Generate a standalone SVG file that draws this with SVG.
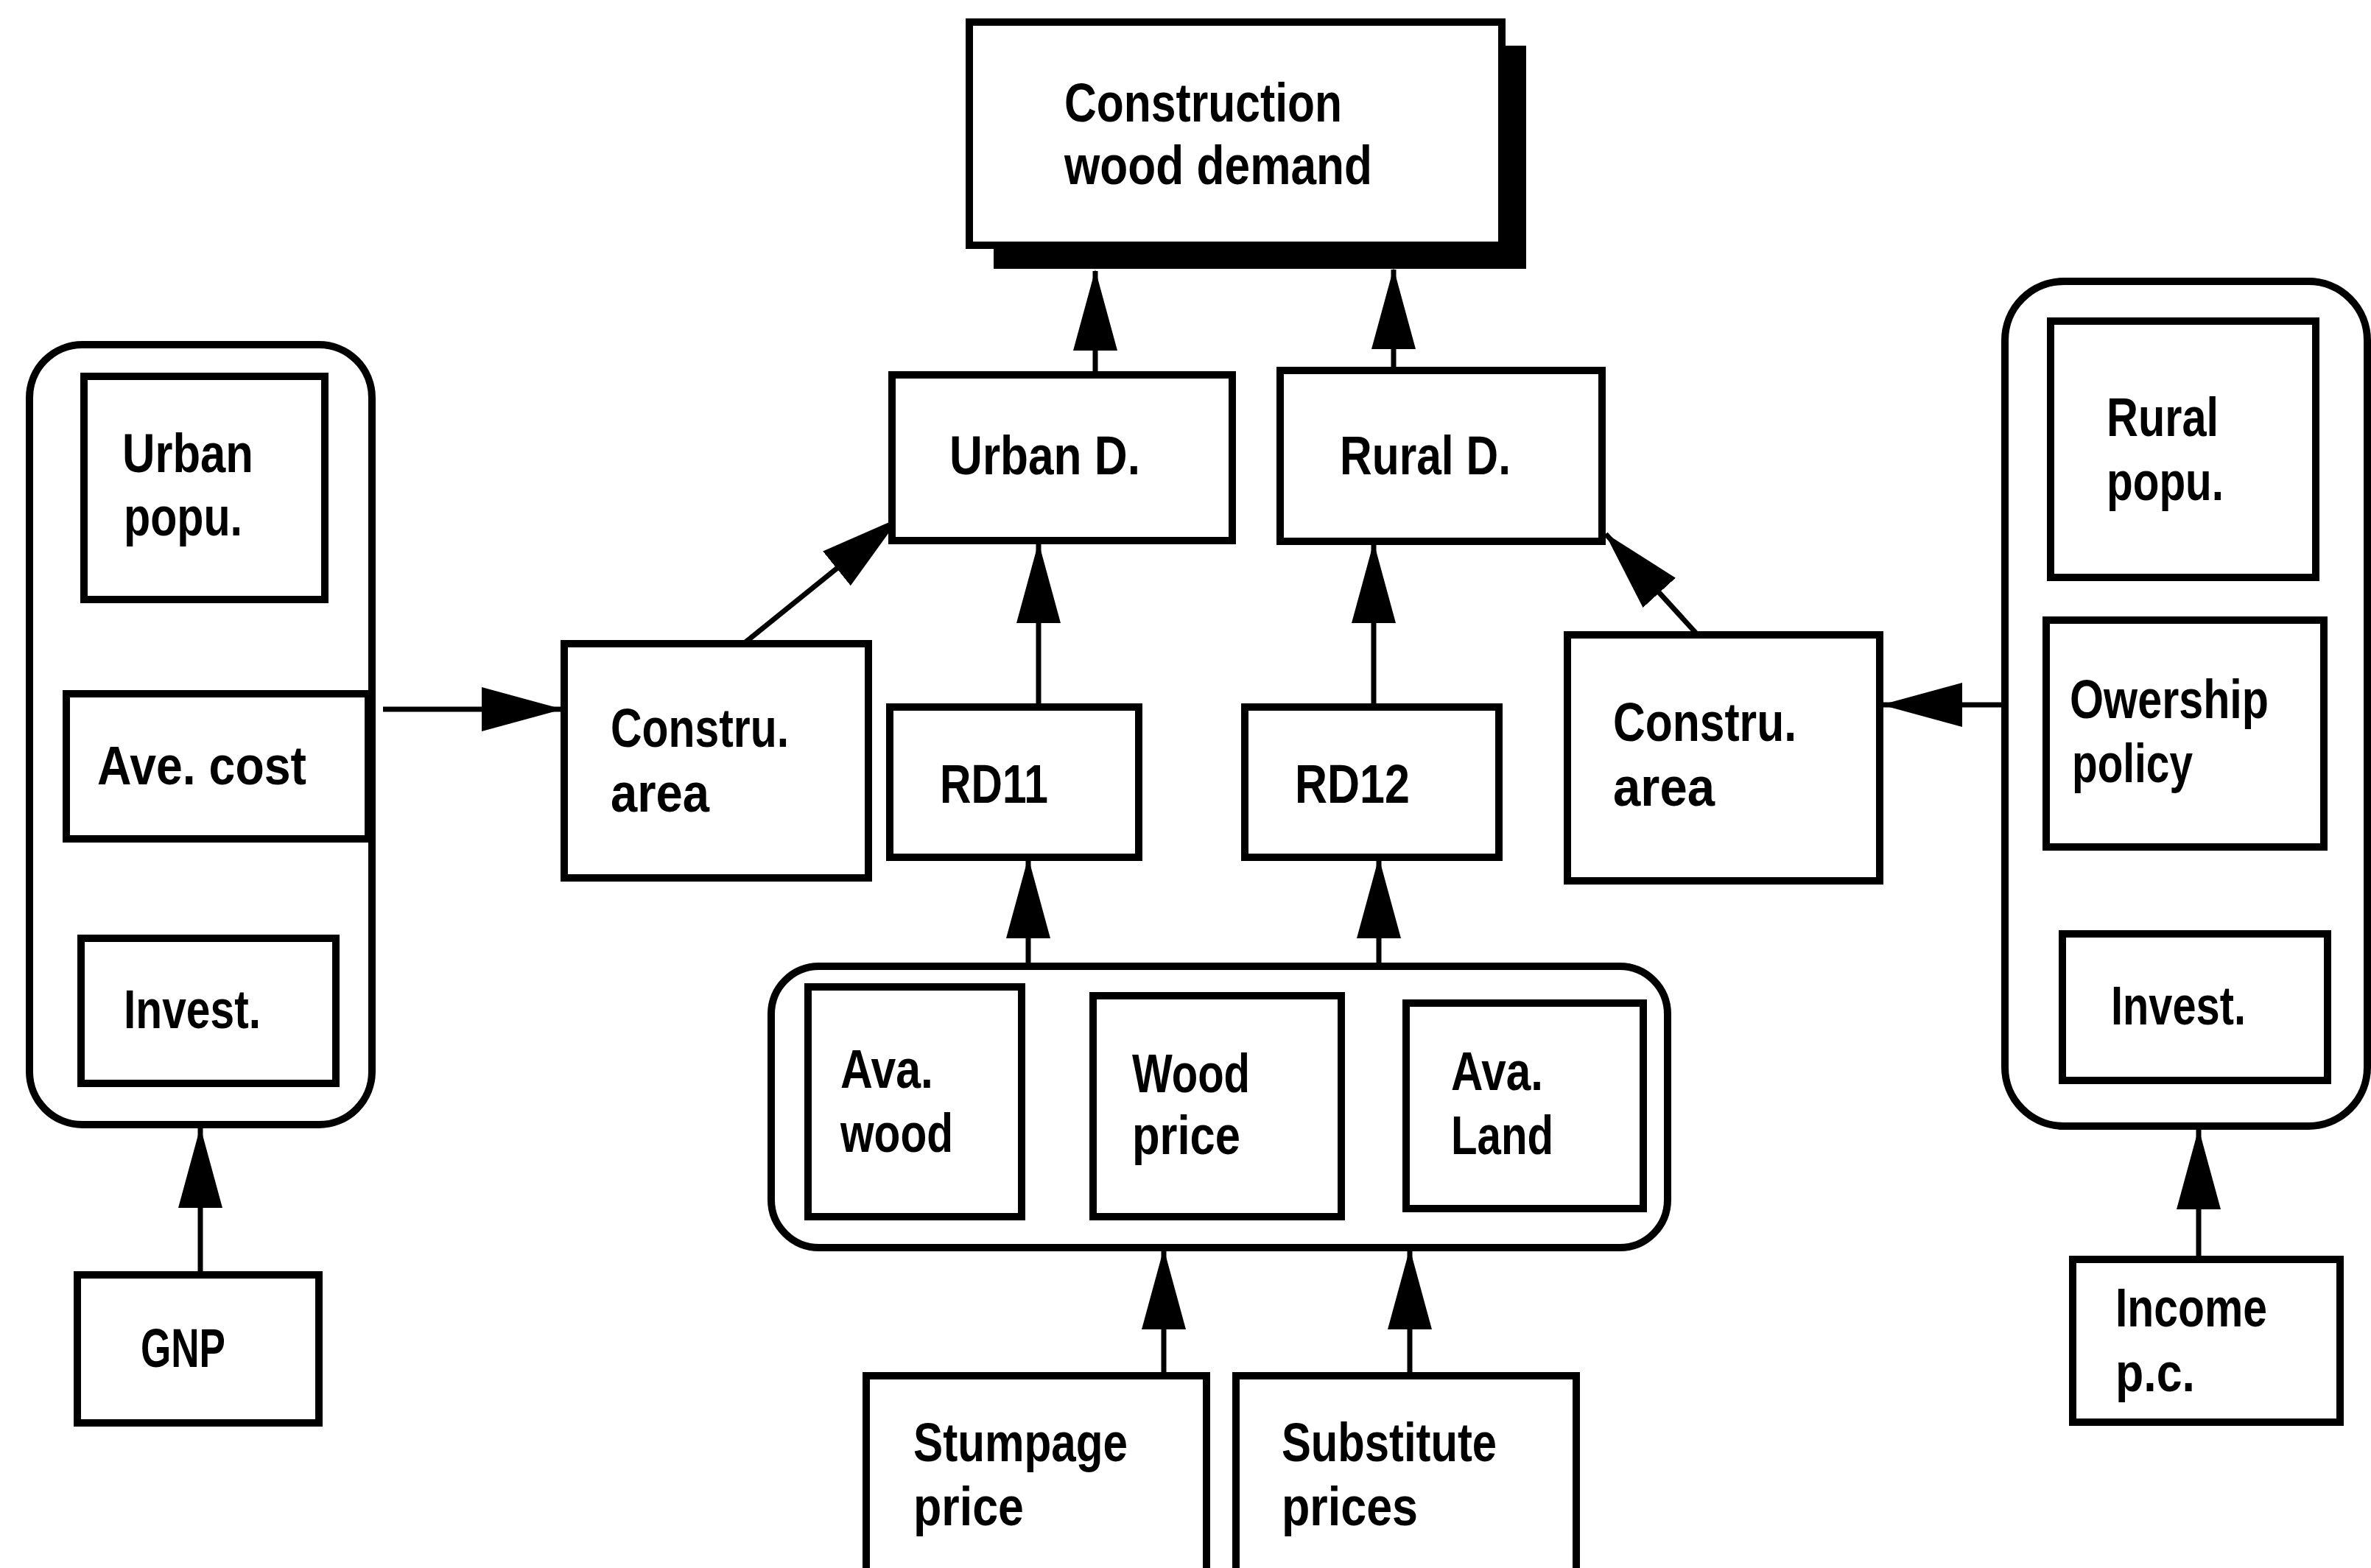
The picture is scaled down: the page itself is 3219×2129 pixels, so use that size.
<svg xmlns="http://www.w3.org/2000/svg" width="3219" height="2129" viewBox="0 0 3219 2129">
<defs>
<style>
.box{fill:#fff;stroke:#000;stroke-width:10}
.grp{fill:none;stroke:#000;stroke-width:10}
.t{font-family:"Liberation Sans",Arial,sans-serif;font-weight:bold;font-size:74px;fill:#000}
.c{fill:none;stroke:#000;stroke-width:7}
</style>
<marker id="ah" viewBox="0 0 110 60" refX="108" refY="30" markerWidth="110" markerHeight="60" markerUnits="userSpaceOnUse" orient="auto">
<path d="M0,0 L110,30 L0,60 Z" fill="#000"/>
</marker>
</defs>
<rect width="3219" height="2129" fill="#fff"/>

<g id="connectors">
<line class="c" x1="1487" y1="511" x2="1487" y2="368" marker-end="url(#ah)"/>
<line class="c" x1="1892" y1="503" x2="1892" y2="366" marker-end="url(#ah)"/>
<line class="c" x1="1410" y1="960" x2="1410" y2="738" marker-end="url(#ah)"/>
<line class="c" x1="1865" y1="960" x2="1865" y2="738" marker-end="url(#ah)"/>
<line class="c" x1="1012" y1="872" x2="1220" y2="704" marker-end="url(#ah)"/>
<line class="c" x1="2303" y1="860" x2="2180" y2="725" marker-end="url(#ah)"/>
<line class="c" x1="520" y1="963" x2="762" y2="963" marker-end="url(#ah)"/>
<line class="c" x1="2722" y1="957" x2="2556" y2="957" marker-end="url(#ah)"/>
<line class="c" x1="272" y1="1731" x2="272" y2="1532" marker-end="url(#ah)"/>
<line class="c" x1="2985" y1="1710" x2="2985" y2="1534" marker-end="url(#ah)"/>
<line class="c" x1="1396" y1="1312" x2="1396" y2="1166" marker-end="url(#ah)"/>
<line class="c" x1="1872" y1="1312" x2="1872" y2="1166" marker-end="url(#ah)"/>
<line class="c" x1="1580" y1="1867" x2="1580" y2="1697" marker-end="url(#ah)"/>
<line class="c" x1="1914" y1="1867" x2="1914" y2="1697" marker-end="url(#ah)"/>
</g>

<g id="construction-wood-demand">
<rect x="1349" y="62" width="723" height="303" fill="#000"/>
<rect class="box" x="1316" y="30" width="723" height="303"/>
<text class="t" x="1445" y="165" textLength="377" lengthAdjust="spacingAndGlyphs">Construction</text>
<text class="t" x="1445" y="250" textLength="418" lengthAdjust="spacingAndGlyphs">wood demand</text>
</g>

<g id="urban-d">
<rect class="box" x="1211" y="509" width="462" height="225"/>
<text class="t" x="1289" y="644" textLength="259" lengthAdjust="spacingAndGlyphs">Urban D.</text>
</g>

<g id="rural-d">
<rect class="box" x="1738" y="503" width="437" height="232"/>
<text class="t" x="1819" y="644" textLength="232" lengthAdjust="spacingAndGlyphs">Rural D.</text>
</g>

<g id="urban-group">
<rect class="grp" x="40" y="468" width="465" height="1059" rx="72" ry="72"/>
<g id="urban-popu">
<rect class="box" x="114" y="511" width="327" height="303"/>
<text class="t" x="166" y="641" textLength="178" lengthAdjust="spacingAndGlyphs">Urban</text>
<text class="t" x="168" y="727" textLength="161" lengthAdjust="spacingAndGlyphs">popu.</text>
</g>
<g id="ave-cost">
<rect class="box" x="90" y="942" width="410" height="197"/>
<text class="t" x="132" y="1065" textLength="284" lengthAdjust="spacingAndGlyphs">Ave. cost</text>
</g>
<g id="invest-urban">
<rect class="box" x="110" y="1274" width="346" height="197"/>
<text class="t" x="168" y="1396" textLength="186" lengthAdjust="spacingAndGlyphs">Invest.</text>
</g>
</g>

<g id="gnp">
<rect class="box" x="105" y="1731" width="328" height="201"/>
<text class="t" x="191" y="1856" textLength="115" lengthAdjust="spacingAndGlyphs">GNP</text>
</g>

<g id="constru-area-urban">
<rect class="box" x="766" y="874" width="413" height="318"/>
<text class="t" x="829" y="1014" textLength="242" lengthAdjust="spacingAndGlyphs">Constru.</text>
<text class="t" x="829" y="1102" textLength="134" lengthAdjust="spacingAndGlyphs">area</text>
</g>

<g id="rd11">
<rect class="box" x="1208" y="960" width="338" height="204"/>
<text class="t" x="1276" y="1090" textLength="147" lengthAdjust="spacingAndGlyphs">RD11</text>
</g>

<g id="rd12">
<rect class="box" x="1690" y="960" width="345" height="204"/>
<text class="t" x="1758" y="1090" textLength="156" lengthAdjust="spacingAndGlyphs">RD12</text>
</g>

<g id="constru-area-rural">
<rect class="box" x="2128" y="862" width="424" height="334"/>
<text class="t" x="2190" y="1006" textLength="249" lengthAdjust="spacingAndGlyphs">Constru.</text>
<text class="t" x="2190" y="1094" textLength="138" lengthAdjust="spacingAndGlyphs">area</text>
</g>

<g id="rural-group">
<rect class="grp" x="2722" y="382" width="492" height="1147" rx="80" ry="80"/>
<g id="rural-popu">
<rect class="box" x="2784" y="436" width="360" height="348"/>
<text class="t" x="2860" y="592" textLength="152" lengthAdjust="spacingAndGlyphs">Rural</text>
<text class="t" x="2860" y="679" textLength="159" lengthAdjust="spacingAndGlyphs">popu.</text>
</g>
<g id="owership-policy">
<rect class="box" x="2778" y="842" width="377" height="308"/>
<text class="t" x="2810" y="975" textLength="270" lengthAdjust="spacingAndGlyphs">Owership</text>
<text class="t" x="2813" y="1062" textLength="164" lengthAdjust="spacingAndGlyphs">policy</text>
</g>
<g id="invest-rural">
<rect class="box" x="2800" y="1268" width="360" height="199"/>
<text class="t" x="2866" y="1391" textLength="183" lengthAdjust="spacingAndGlyphs">Invest.</text>
</g>
</g>

<g id="income-pc">
<rect class="box" x="2814" y="1710" width="363" height="221"/>
<text class="t" x="2872" y="1801" textLength="206" lengthAdjust="spacingAndGlyphs">Income</text>
<text class="t" x="2872" y="1889" textLength="108" lengthAdjust="spacingAndGlyphs">p.c.</text>
</g>

<g id="resource-group">
<rect class="grp" x="1047" y="1312" width="1217" height="382" rx="65" ry="65"/>
<g id="ava-wood">
<rect class="box" x="1097" y="1340" width="290" height="312"/>
<text class="t" x="1141" y="1477" textLength="126" lengthAdjust="spacingAndGlyphs">Ava.</text>
<text class="t" x="1141" y="1564" textLength="153" lengthAdjust="spacingAndGlyphs">wood</text>
</g>
<g id="wood-price">
<rect class="box" x="1484" y="1352" width="337" height="300"/>
<text class="t" x="1537" y="1483" textLength="160" lengthAdjust="spacingAndGlyphs">Wood</text>
<text class="t" x="1537" y="1567" textLength="147" lengthAdjust="spacingAndGlyphs">price</text>
</g>
<g id="ava-land">
<rect class="box" x="1909" y="1362" width="322" height="279"/>
<text class="t" x="1970" y="1480" textLength="125" lengthAdjust="spacingAndGlyphs">Ava.</text>
<text class="t" x="1970" y="1567" textLength="139" lengthAdjust="spacingAndGlyphs">Land</text>
</g>
</g>

<g id="stumpage-price">
<rect class="box" x="1176" y="1868" width="462" height="290"/>
<text class="t" x="1240" y="1984" textLength="291" lengthAdjust="spacingAndGlyphs">Stumpage</text>
<text class="t" x="1240" y="2071" textLength="150" lengthAdjust="spacingAndGlyphs">price</text>
</g>

<g id="substitute-prices">
<rect class="box" x="1678" y="1868" width="462" height="290"/>
<text class="t" x="1740" y="1984" textLength="292" lengthAdjust="spacingAndGlyphs">Substitute</text>
<text class="t" x="1740" y="2071" textLength="185" lengthAdjust="spacingAndGlyphs">prices</text>
</g>
</svg>
